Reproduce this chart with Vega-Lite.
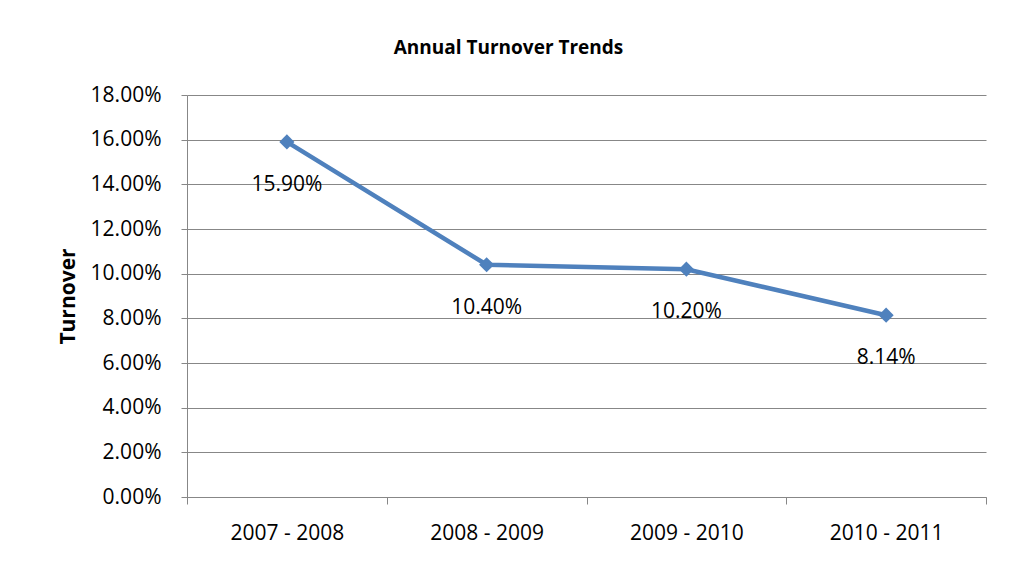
{
  "$schema": "https://vega.github.io/schema/vega-lite/v6.json",
  "autosize": {"type": "none"},
  "width": 799,
  "height": 402,
  "padding": {"left": 187, "top": 95, "right": 32, "bottom": 67},
  "background": "white",
  "title": {
    "text": "Annual Turnover Trends",
    "font": "Open Sans",
    "fontSize": 19,
    "fontWeight": "bold",
    "color": "#000000",
    "anchor": "middle",
    "dx": -78,
    "offset": 26
  },
  "data": {
    "values": [
      {"period": "2007 - 2008", "turnover": 0.159, "label": "15.90%"},
      {"period": "2008 - 2009", "turnover": 0.104, "label": "10.40%"},
      {"period": "2009 - 2010", "turnover": 0.102, "label": "10.20%"},
      {"period": "2010 - 2011", "turnover": 0.0814, "label": "8.14%"}
    ]
  },
  "config": {
    "view": {"stroke": null},
    "font": "Open Sans"
  },
  "encoding": {
    "x": {
      "field": "period",
      "type": "nominal",
      "sort": null,
      "scale": {"paddingInner": 0, "paddingOuter": 0},
      "axis": {
        "title": null,
        "labelAngle": 0,
        "tickBand": "extent",
        "labelFont": "Open Sans",
        "labelFontSize": 21,
        "labelColor": "#000000",
        "labelPadding": 18,
        "tickSize": 7,
        "tickColor": "#878787",
        "domainColor": "#878787",
        "grid": false
      }
    },
    "y": {
      "field": "turnover",
      "type": "quantitative",
      "scale": {"domain": [0, 0.18], "nice": false},
      "axis": {
        "title": "Turnover",
        "titleFont": "Open Sans",
        "titleFontSize": 21,
        "titleFontWeight": "bold",
        "titleColor": "#000000",
        "titlePadding": 12,
        "values": [0, 0.02, 0.04, 0.06, 0.08, 0.1, 0.12, 0.14, 0.16, 0.18],
        "format": ".2%",
        "labelFont": "Open Sans",
        "labelFontSize": 21,
        "labelColor": "#000000",
        "labelPadding": 20,
        "tickSize": 6,
        "tickColor": "#878787",
        "domainColor": "#878787",
        "gridColor": "#878787",
        "gridOpacity": 1,
        "gridWidth": 1
      }
    }
  },
  "layer": [
    {
      "mark": {"type": "line", "color": "#4F81BD", "strokeWidth": 4.5}
    },
    {
      "mark": {"type": "point", "shape": "diamond", "filled": true, "color": "#4F81BD", "size": 230, "opacity": 1}
    },
    {
      "mark": {"type": "text", "dy": 43, "font": "Open Sans", "fontSize": 21, "color": "#000000"},
      "encoding": {"text": {"field": "label"}}
    }
  ]
}
